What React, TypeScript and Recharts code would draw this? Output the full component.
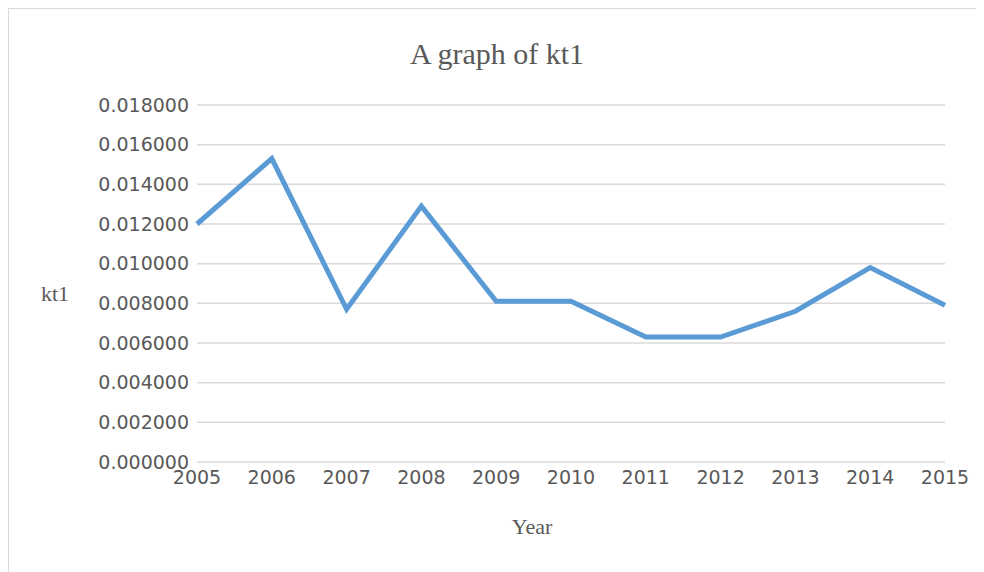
import React from "react";
import { LineChart, Line, XAxis, YAxis, CartesianGrid } from "recharts";

// kt1 by year
const years = [2005, 2006, 2007, 2008, 2009, 2010, 2011, 2012, 2013, 2014, 2015];
const kt1Values = [0.012, 0.0153, 0.0077, 0.0129, 0.0081, 0.0081, 0.0063, 0.0063, 0.0076, 0.0098, 0.0079];
const yTicks = [0, 0.002, 0.004, 0.006, 0.008, 0.01, 0.012, 0.014, 0.016, 0.018];

const data = years.map((year, i) => ({ year, kt1: kt1Values[i] }));

const textColor = "#595959";
const serif = "'Liberation Serif', 'DejaVu Serif', serif";
const sans = "'DejaVu Sans', sans-serif";

const App = () => (
  <div
    style={{
      position: "relative",
      width: 976,
      height: 566,
      border: "1px solid #d9d9d9",
      boxSizing: "border-box",
      background: "#fff",
    }}
  >
    <div
      style={{
        position: "absolute",
        left: 0,
        width: 976,
        top: 27,
        textAlign: "center",
        fontFamily: serif,
        fontSize: 30,
        color: textColor,
        lineHeight: "36px",
      }}
    >
      A graph of kt1
    </div>
    <div
      style={{
        position: "absolute",
        left: 32,
        top: 272,
        fontFamily: serif,
        fontSize: 22,
        color: textColor,
        lineHeight: "26px",
      }}
    >
      kt1
    </div>
    <div
      style={{
        position: "absolute",
        left: 0,
        width: 1046,
        top: 505,
        textAlign: "center",
        fontFamily: serif,
        fontSize: 22,
        color: textColor,
        lineHeight: "26px",
      }}
    >
      Year
    </div>
    <div style={{ position: "absolute", left: -1, top: -1 }}>
      <LineChart
        width={976}
        height={564}
        data={data}
        margin={{ top: 97, right: 39, bottom: 80, left: 0 }}
      >
        <CartesianGrid vertical={false} stroke="#d9d9d9" strokeWidth={1.5} />
        <XAxis
          dataKey="year"
          type="number"
          domain={[2005, 2015]}
          ticks={years}
          interval={0}
          axisLine={false}
          tickLine={false}
          tickMargin={3}
          tick={{ fill: textColor, fontSize: 19, fontFamily: sans }}
        />
        <YAxis
          domain={[0, 0.018]}
          ticks={yTicks}
          interval={0}
          width={189}
          axisLine={false}
          tickLine={false}
          tickFormatter={(v: number) => v.toFixed(6)}
          tick={{ fill: textColor, fontSize: 19, fontFamily: sans }}
        />
        <Line
          dataKey="kt1"
          stroke="#5b9bd5"
          strokeWidth={5}
          dot={false}
          isAnimationActive={false}
        />
      </LineChart>
    </div>
  </div>
);

export default App;
